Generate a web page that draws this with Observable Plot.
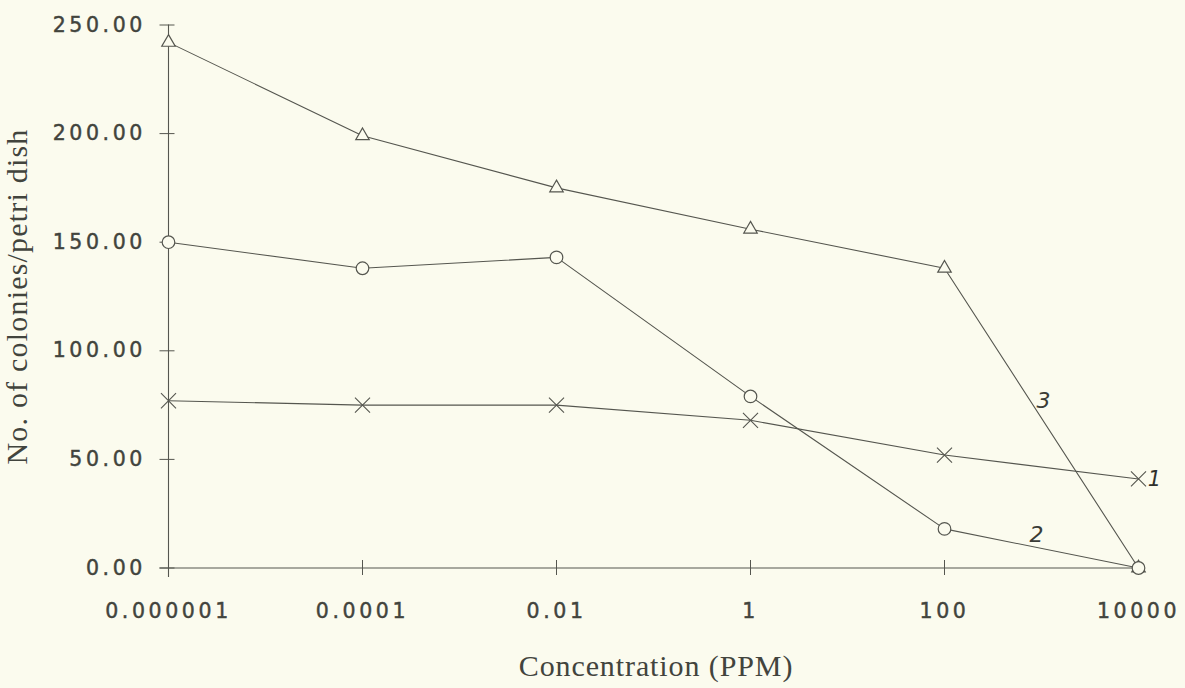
<!DOCTYPE html>
<html><head><meta charset="utf-8">
<script src="https://cdn.jsdelivr.net/npm/d3@7"></script>
<script src="https://cdn.jsdelivr.net/npm/@observablehq/plot@0.6"></script>
<style>
html,body{margin:0;padding:0;background:#fbfbee;}
#chart svg{background:#fbfbee;display:block;}
g[aria-label="y-axis tick label"], g[aria-label="x-axis tick label"]{letter-spacing:3.6px;stroke:#42443d;stroke-width:0.45px;}
</style></head><body><div id="chart"></div>
<script>
// Data
const concentrations = ["0.000001", "0.0001", "0.01", "1", "100", "10000"];
const series1 = [77, 75, 75, 68, 52, 41];     // crosses (curve 1)
const series2 = [150, 138, 143, 79, 18, 0];   // circles (curve 2)
const series3 = [242, 199, 175, 156, 138, 0]; // triangles (curve 3)
const yTicks = [0, 50, 100, 150, 200, 250];
const curveLabels = ["1", "2", "3"];
const labelAnchors = ["10000", "10000", "10000"];
const labelValues = [41, 15, 77];
const xTitle = "Concentration (PPM)";
const yTitle = "No. of colonies/petri dish";

const rows = (vals, s) => vals.map((v, i) => ({c: concentrations[i], v, s}));
const d1 = rows(series1, "1"), d2 = rows(series2, "2"), d3r = rows(series3, "3");
const ann = curveLabels.map((t, i) => ({t, c: labelAnchors[i], v: labelValues[i]}));

const ink = "#42443d", lineInk = "#55564f", bg = "#fbfbee";
const tickFont = "DejaVu Sans", titleFont = "Liberation Serif";

const chart = Plot.plot({
  width: 1185, height: 688,
  marginLeft: 167, marginRight: 47, marginTop: 24.5, marginBottom: 120.5,
  style: {background: bg, color: ink},
  x: {type: "point", domain: concentrations, padding: 0},
  y: {domain: [0, 250]},
  marks: [
    Plot.ruleX([concentrations[0]], {stroke: lineInk, strokeWidth: 1.1, insetBottom: -9.5}),
    Plot.ruleY([0], {stroke: lineInk, strokeWidth: 1.1, insetLeft: -7.5}),
    Plot.axisY({ticks: yTicks, tickFormat: d => d.toFixed(2), tickSize: 15, dx: 7.5, tickPadding: 14,
      fontSize: 20.5, fontFamily: tickFont, stroke: lineInk, fill: ink, label: null}),
    Plot.axisX({tickSize: 15, dy: -7.5, tickPadding: 28, fontSize: 20.5, fontFamily: tickFont,
      stroke: lineInk, fill: ink, label: null}),
    Plot.line(d1, {x: "c", y: "v", stroke: lineInk, strokeWidth: 1.1}),
    Plot.line(d2, {x: "c", y: "v", stroke: lineInk, strokeWidth: 1.1}),
    Plot.line(d3r, {x: "c", y: "v", stroke: lineInk, strokeWidth: 1.1}),
    Plot.dot(d3r, {x: "c", y: "v", symbol: "triangle", r: 5, stroke: lineInk, strokeWidth: 1.2, fill: bg}),
    Plot.dot(d2, {x: "c", y: "v", symbol: "circle", r: 6.3, stroke: lineInk, strokeWidth: 1.2, fill: bg}),
    Plot.dot(d1, {x: "c", y: "v", symbol: "times", r: 6.9, stroke: lineInk, strokeWidth: 1.1}),
    Plot.text([ann[0]], {x: "c", y: "v", text: "t", dx: 16, fontSize: 21, fontStyle: "italic", fontFamily: "DejaVu Sans", fill: "#2e302b"}),
    Plot.text([ann[1]], {x: "c", y: "v", text: "t", dx: -102, fontSize: 22, fontStyle: "italic", fontFamily: "DejaVu Sans", fontWeight: 300, fill: "#3a3c36"}),
    Plot.text([ann[2]], {x: "c", y: "v", text: "t", dx: -95, fontSize: 22, fontStyle: "italic", fontFamily: "DejaVu Sans", fontWeight: 300, fill: "#3a3c36"}),
    Plot.text([xTitle], {text: d => d, frameAnchor: "bottom", lineAnchor: "middle", textAnchor: "middle", dy: 98, dx: 3, fontSize: 30, fontFamily: titleFont, fill: ink}),
    Plot.text([yTitle], {text: d => d, frameAnchor: "left", lineAnchor: "middle", textAnchor: "middle", dx: -150.5, rotate: -90, fontSize: 30, fontFamily: titleFont, fill: ink})
  ]
});
d3.select(chart).selectAll("text").each(function() {
  const t = this.textContent;
  if (t === xTitle) this.style.letterSpacing = "0.9px";
  if (t === yTitle) this.style.letterSpacing = "1.2px";
});
document.getElementById("chart").appendChild(chart);
</script></body></html>
